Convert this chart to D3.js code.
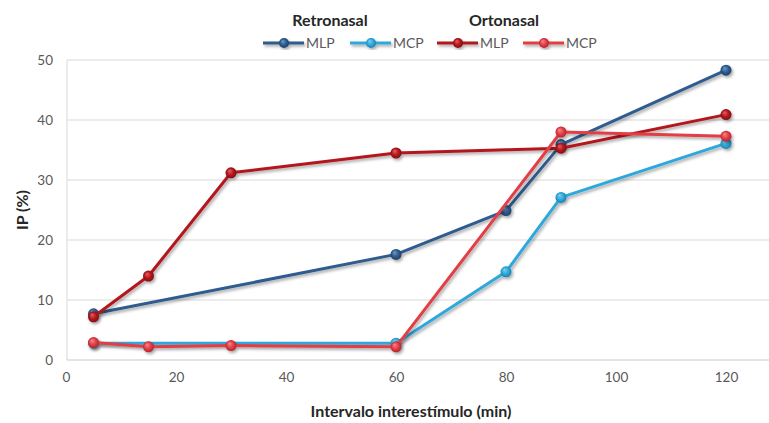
<!DOCTYPE html>
<html>
<head>
<meta charset="utf-8">
<script src="https://cdn.jsdelivr.net/npm/d3@7"></script>
<style>
  html, body { margin: 0; padding: 0; background: #ffffff; }
  svg { display: block; }
</style>
</head>
<body>
<svg id="chart" width="769" height="423"></svg>
<script>
// Interstimulus interval (min) and IP (%) per condition
const retroMLP_x = [5, 60, 80, 90, 120];
const retroMLP_y = [7.7, 17.6, 24.9, 35.9, 48.3];
const retroMCP_x = [5, 60, 80, 90, 120];
const retroMCP_y = [2.8, 2.8, 14.7, 27.1, 36.1];
const ortoMLP_x = [5, 15, 30, 60, 90, 120];
const ortoMLP_y = [7.2, 14.0, 31.2, 34.5, 35.3, 40.9];
const ortoMCP_x = [5, 15, 30, 60, 90, 120];
const ortoMCP_y = [2.9, 2.2, 2.4, 2.2, 38.0, 37.3];

const xTicks = [0, 20, 40, 60, 80, 100, 120];
const yTicks = [0, 10, 20, 30, 40, 50];

const series = [
  { id: "rmlp", label: "MLP", xs: retroMLP_x, ys: retroMLP_y, color: "#2f5b8e", light: "#6f9ccc", dark: "#1d3c60" },
  { id: "rmcp", label: "MCP", xs: retroMCP_x, ys: retroMCP_y, color: "#2ea8dc", light: "#7fd0f0", dark: "#1b7aa6" },
  { id: "omlp", label: "MLP", xs: ortoMLP_x, ys: ortoMLP_y, color: "#b3171c", light: "#e86066", dark: "#7a0c10" },
  { id: "omcp", label: "MCP", xs: ortoMCP_x, ys: ortoMCP_y, color: "#e33d45", light: "#f68a90", dark: "#a8232a" }
];

const svg = d3.select("#chart");
const plotLeft = 67, plotRight = 769, plotTop = 60, plotBottom = 360;

const x = d3.scaleLinear().domain([0, 120]).range([66, 726]);
const y = d3.scaleLinear().domain([0, 50]).range([plotBottom, plotTop]);

const defs = svg.append("defs");
const shadow = defs.append("filter").attr("id", "shadow")
  .attr("x", "-20%").attr("y", "-20%").attr("width", "140%").attr("height", "140%");
shadow.append("feDropShadow")
  .attr("dx", 1.5).attr("dy", 2).attr("stdDeviation", 1.6)
  .attr("flood-color", "#000").attr("flood-opacity", 0.35);

series.forEach(s => {
  const g = defs.append("radialGradient").attr("id", "ball-" + s.id)
    .attr("cx", "50%").attr("cy", "50%").attr("r", "55%")
    .attr("fx", "35%").attr("fy", "30%");
  g.append("stop").attr("offset", "0%").attr("stop-color", s.light);
  g.append("stop").attr("offset", "55%").attr("stop-color", s.color);
  g.append("stop").attr("offset", "100%").attr("stop-color", s.dark);
});

const font = "Lato, 'Open Sans', sans-serif";

// Horizontal gridlines
svg.append("g")
  .selectAll("line")
  .data(yTicks.filter(t => t > 0))
  .join("line")
  .attr("x1", plotLeft).attr("x2", plotRight)
  .attr("y1", d => y(d)).attr("y2", d => y(d))
  .attr("stroke", "#d9d9d9").attr("stroke-width", 1);

// Plot frame: left and bottom edges
svg.append("line").attr("x1", plotLeft).attr("x2", plotLeft).attr("y1", plotTop).attr("y2", plotBottom)
  .attr("stroke", "#d9d9d9").attr("stroke-width", 1);
svg.append("line").attr("x1", plotLeft).attr("x2", plotRight).attr("y1", plotBottom).attr("y2", plotBottom)
  .attr("stroke", "#c8c8c8").attr("stroke-width", 1);

// Y axis
const yAxis = d3.axisLeft(y).tickValues(yTicks).tickSize(0).tickPadding(0);
const yg = svg.append("g").attr("transform", "translate(53,0)").call(yAxis);
yg.select(".domain").remove();
yg.selectAll("text").attr("fill", "#595959").style("font-family", font).style("font-size", "13.5px");

// X axis
const xAxis = d3.axisBottom(x).tickValues(xTicks).tickSize(0).tickPadding(0);
const xg = svg.append("g").attr("transform", "translate(0,372)").call(xAxis);
xg.select(".domain").remove();
xg.selectAll("text").attr("fill", "#595959").style("font-family", font).style("font-size", "13.5px");

// Axis titles
svg.append("text")
  .attr("x", 411).attr("y", 417)
  .attr("text-anchor", "middle")
  .attr("fill", "#262626")
  .style("font-family", font).style("font-size", "16px").style("font-weight", "bold")
  .text("Intervalo interestímulo (min)");

svg.append("text")
  .attr("transform", "translate(28,210) rotate(-90)")
  .attr("text-anchor", "middle")
  .attr("fill", "#262626")
  .style("font-family", font).style("font-size", "16px").style("font-weight", "bold")
  .text("IP (%)");

// Series lines and markers
const line = d3.line().x(d => x(d[0])).y(d => y(d[1]));

series.forEach(s => {
  const pts = s.xs.map((v, i) => [v, s.ys[i]]);
  const g = svg.append("g").attr("filter", "url(#shadow)");
  g.append("path")
    .attr("d", line(pts))
    .attr("fill", "none")
    .attr("stroke", s.color)
    .attr("stroke-width", 3)
    .attr("stroke-linejoin", "round")
    .attr("stroke-linecap", "round");
  g.selectAll("circle")
    .data(pts)
    .join("circle")
    .attr("cx", d => x(d[0])).attr("cy", d => y(d[1]))
    .attr("r", 5.5)
    .attr("fill", "url(#ball-" + s.id + ")");
});

// Legend
const groupTitles = [
  { text: "Retronasal", cx: 330 },
  { text: "Ortonasal", cx: 504 }
];
svg.append("g").selectAll("text")
  .data(groupTitles)
  .join("text")
  .attr("x", d => d.cx).attr("y", 26)
  .attr("text-anchor", "middle")
  .attr("fill", "#262626")
  .style("font-family", font).style("font-size", "16px").style("font-weight", "bold")
  .text(d => d.text);

const legendPos = [263, 350, 437, 523];
const lg = svg.append("g");
series.forEach((s, i) => {
  const x0 = legendPos[i];
  const item = lg.append("g").attr("transform", `translate(${x0},43)`);
  const sym = item.append("g").attr("filter", "url(#shadow)");
  sym.append("line").attr("x1", 0).attr("x2", 41).attr("y1", 0).attr("y2", 0)
    .attr("stroke", s.color).attr("stroke-width", 3);
  sym.append("circle").attr("cx", 21).attr("cy", 0).attr("r", 5)
    .attr("fill", "url(#ball-" + s.id + ")");
  item.append("text")
    .attr("x", 43).attr("y", 5)
    .attr("fill", "#595959")
    .style("font-family", font).style("font-size", "14px")
    .text(s.label);
});
</script>
</body>
</html>
